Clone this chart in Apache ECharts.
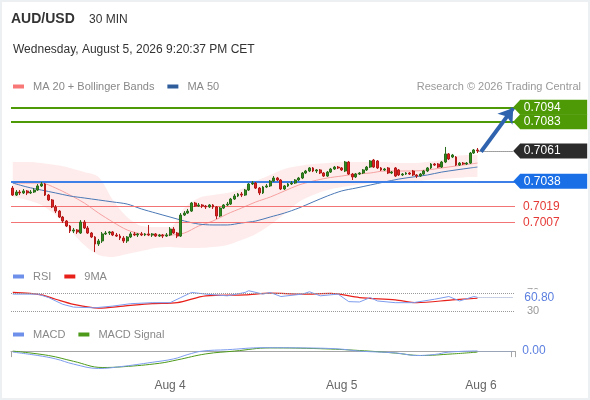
<!DOCTYPE html>
<html><head><meta charset="utf-8">
<script src="https://cdn.jsdelivr.net/npm/echarts@6/dist/echarts.min.js"></script>
<style>
html,body{margin:0;padding:0;background:#fff;}
#c{position:absolute;left:0;top:0;width:590px;height:400px;}
#frame{position:absolute;left:0;top:0;width:586px;height:396px;border:2px solid #edf0f3;pointer-events:none;}
</style>
</head><body><div id="c"></div><div id="frame"></div>
<script>
// ---------- categories (30-min bars from Aug 3 02:00) ----------
const categories = [];
for (let k = 0; k < 141; k++) {
  const t = new Date(Date.UTC(2026, 7, 3, 2, 0) + k * 1800000);
  categories.push(t.toISOString().slice(5, 16));
}
const tickIdx = [44, 92, 131];
const tickText = ['Aug 4', 'Aug 5', 'Aug 6'];

// ---------- candles ----------
const opens = [
.70329,.70276,.70299,.70292,.70307,.70292,.70299,.70314,.70345,.70360,
.70276,.70239,.70186,.70155,.70110,.70080,.70042,.70004,.70012,.69989,
.70072,.70027,.69989,.69959,.69906,.69929,.69982,.69989,.69997,.69974,
.69966,.69951,.69929,.69959,.69982,.69974,.69982,.69974,.69982,.69974,
.69982,.69966,.69974,.69966,.69974,.70019,.69989,.69966,.70125,.70140,
.70155,.70216,.70193,.70201,.70193,.70186,.70201,.70186,.70118,.70178,
.70201,.70208,.70246,.70269,.70284,.70276,.70314,.70360,.70367,.70329,
.70292,.70337,.70345,.70382,.70405,.70390,.70322,.70345,.70360,.70367,
.70390,.70405,.70443,.70458,.70481,.70458,.70466,.70443,.70420,.70450,
.70473,.70488,.70481,.70458,.70526,.70435,.70413,.70435,.70443,.70466,
.70488,.70541,.70534,.70481,.70466,.70481,.70443,.70481,.70466,.70428,
.70435,.70443,.70458,.70428,.70420,.70435,.70458,.70481,.70511,.70511,
.70488,.70526,.70587,.70564,.70564,.70503,.70518,.70511,.70518,.70594,
.70617];
const closes = [
.70276,.70299,.70292,.70307,.70292,.70299,.70314,.70345,.70360,.70276,
.70239,.70186,.70155,.70110,.70080,.70042,.70004,.70012,.69997,.70072,
.70027,.69989,.69959,.69906,.69929,.69982,.69989,.69997,.69974,.69966,
.69951,.69929,.69959,.69982,.69974,.69982,.69974,.69982,.69974,.69982,
.69966,.69974,.69966,.69974,.70019,.69989,.69966,.70125,.70140,.70155,
.70216,.70193,.70201,.70193,.70186,.70201,.70186,.70118,.70178,.70201,
.70208,.70246,.70269,.70284,.70276,.70314,.70360,.70367,.70329,.70292,
.70337,.70345,.70382,.70405,.70390,.70322,.70345,.70360,.70367,.70390,
.70405,.70443,.70458,.70481,.70458,.70466,.70443,.70420,.70450,.70473,
.70488,.70481,.70466,.70526,.70435,.70413,.70435,.70443,.70466,.70488,
.70534,.70488,.70481,.70466,.70473,.70443,.70450,.70420,.70428,.70435,
.70443,.70435,.70428,.70420,.70435,.70458,.70481,.70511,.70503,.70488,
.70526,.70587,.70549,.70579,.70503,.70518,.70511,.70518,.70594,.70617,
.70610];
const highs = [
.70345,.70314,.70314,.70322,.70314,.70314,.70329,.70360,.70375,.70367,
.70284,.70246,.70201,.70163,.70118,.70087,.70050,.70027,.70019,.70087,
.70087,.70042,.69997,.69966,.69944,.69997,.70004,.70004,.70004,.69989,
.69982,.69966,.69966,.69997,.69997,.69989,.69997,.69989,.70050,.69989,
.69989,.69982,.69982,.69989,.70034,.70034,.69997,.70140,.70155,.70171,
.70224,.70224,.70216,.70208,.70201,.70208,.70208,.70193,.70186,.70208,
.70224,.70254,.70284,.70292,.70299,.70322,.70367,.70382,.70375,.70337,
.70345,.70360,.70390,.70420,.70413,.70397,.70352,.70367,.70382,.70397,
.70413,.70450,.70466,.70488,.70488,.70473,.70473,.70450,.70458,.70481,
.70496,.70496,.70488,.70534,.70534,.70443,.70443,.70450,.70473,.70496,
.70541,.70549,.70541,.70488,.70481,.70488,.70458,.70488,.70473,.70443,
.70450,.70450,.70466,.70435,.70443,.70466,.70488,.70518,.70518,.70518,
.70534,.70640,.70594,.70587,.70571,.70526,.70526,.70526,.70602,.70624,
.70632];
const lows = [
.70269,.70269,.70276,.70284,.70276,.70284,.70292,.70307,.70337,.70269,
.70231,.70178,.70140,.70103,.70065,.70034,.69989,.69989,.69982,.69982,
.70019,.69982,.69951,.69845,.69891,.69914,.69974,.69974,.69966,.69959,
.69936,.69914,.69914,.69951,.69966,.69959,.69966,.69966,.69966,.69959,
.69959,.69959,.69951,.69959,.69966,.69982,.69951,.69959,.70118,.70133,
.70148,.70186,.70186,.70178,.70171,.70178,.70171,.70095,.70110,.70171,
.70193,.70201,.70239,.70261,.70261,.70269,.70307,.70352,.70322,.70276,
.70284,.70329,.70337,.70375,.70382,.70314,.70314,.70337,.70352,.70360,
.70382,.70397,.70435,.70450,.70450,.70443,.70435,.70413,.70413,.70443,
.70466,.70473,.70458,.70450,.70428,.70390,.70405,.70428,.70435,.70458,
.70481,.70481,.70473,.70458,.70458,.70435,.70435,.70413,.70420,.70420,
.70428,.70428,.70420,.70405,.70413,.70428,.70450,.70473,.70496,.70481,
.70481,.70518,.70541,.70556,.70496,.70496,.70503,.70503,.70511,.70587,
.70594];

// ---------- indicators (sampled at bar indices) ----------
const bandIdx = [0,4,8,12,16,20,24,28,32,36,40,44,48,52,56,60,64,68,72,76,80,84,88,92,96,100,104,108,112,116,120,124,128,130];
const bbUpper = [.70526,.70526,.70518,.70503,.70481,.70450,.70413,.70239,.70110,.70042,.70034,.70034,.70178,.70254,.70276,.70292,.70322,.70382,.70428,.70473,.70496,.70511,.70518,.70526,.70526,.70526,.70526,.70518,.70518,.70526,.70541,.70571,.70579,.70579];
const bbLower = [.70261,.70239,.70201,.70125,.70012,.69898,.69823,.69808,.69830,.69853,.69876,.69883,.69876,.69876,.69883,.69898,.69936,.69982,.70050,.70133,.70224,.70276,.70314,.70337,.70352,.70367,.70375,.70382,.70382,.70390,.70397,.70405,.70413,.70413];
const ma20 = [.70367,.70367,.70367,.70329,.70276,.70216,.70140,.70072,.70012,.69982,.69974,.69974,.69989,.70042,.70080,.70133,.70178,.70224,.70261,.70307,.70352,.70382,.70405,.70420,.70435,.70443,.70458,.70458,.70458,.70466,.70481,.70496,.70511,.70518];
const ma50 = [.70367,.70337,.70314,.70292,.70269,.70254,.70239,.70224,.70208,.70171,.70140,.70110,.70080,.70057,.70050,.70050,.70065,.70080,.70110,.70140,.70178,.70224,.70269,.70307,.70329,.70352,.70375,.70397,.70413,.70428,.70450,.70466,.70481,.70488];

const rsiIdx = [0,7,10,14,17,23,28,33,39,44,47,50,54,60,65,66,70,72,75,81,83,86,91,94,97,100,102,107,112,118,122,125,129,130];
const rsiVal = [67.8,67.8,60.2,45.2,39.1,37.6,41.4,46.7,48.9,48.9,60.2,71.5,67.8,64,71.5,75.3,67.8,71.5,62.5,67.8,73,64,67.8,51.2,50.4,60.2,52.7,48.9,48.9,56.5,62.5,52.7,62.5,60.8];
const rsiMaIdx = [0,8,12,17,24,31,39,46,54,65,72,81,89,97,107,113,123,130];
const rsiMaVal = [71.5,66.3,56.5,45.2,37,41.4,46.7,48.9,64,66.3,70,67.8,69.3,60.2,55,48.9,55,58.7];

const macdIdx = [0,7,12,17,24,30,39,45,49,53,60,70,81,91,97,107,113,118,122,130];
const macdVal = [-0.00005,-0.00022,-0.00039,-0.00065,-0.00087,-0.00078,-0.00056,-0.00039,-0.00017,0,0.00007,0.00017,0.00016,0.00011,0,-0.00009,-0.00022,-0.00017,-0.00005,0.00001];
const sigIdx = [0,10,17,25,31,41,46,54,62,72,86,97,107,114,123,130];
const sigVal = [0,-0.00022,-0.00051,-0.00082,-0.00078,-0.00061,-0.00044,-0.00014,0,0.00016,0.00012,0.00003,-0.0001,-0.00022,-0.00014,-0.00005];

// ---------- key levels ----------
const resistLevels = [0.7094, 0.7083];
const lastPrice = 0.7061;
const pivotLevel = 0.7038;
const supportLevels = [0.7019, 0.7007];
const arrowStart = [131, 0.70604];
const arrowEnd = [140, 0.70934];

// ---------- build ----------
const pairs = (idx, val) => idx.map((k, j) => [k, val[j]]);
const candleData = opens.map((o, k) => [o, closes[k], lows[k], highs[k]]);
const bandWidth = bbUpper.map((u, j) => +(u - bbLower[j]).toFixed(6));
const lastIdx = closes.length - 1;
const endCat = categories[140];
const boxPath = 'path://M0,7.5L7,0L74,0L74,15L7,15Z';
const font = 'Liberation Sans, Arial, sans-serif';

const box = (v, color) => ({
  name: v.toFixed(4), coord: [endCat, v], symbol: boxPath, symbolSize: [74, 15],
  symbolOffset: [37, 0], itemStyle: { color: color }
});
// full-width horizontal level (y from the value axis, spanning the whole plot)
const hLine = (v, lineStyle, label) => {
  const end = { yAxis: v, x: '99.9%', lineStyle: lineStyle };
  if (label) end.label = label;
  return [{ yAxis: v, x: 11 }, end];
};

const chart = echarts.init(document.getElementById('c'), null, { renderer: 'canvas' });
chart.setOption({
  animation: false,
  textStyle: { fontFamily: font },
  title: [
    { text: 'AUD/USD', left: 11, top: 12, padding: 0, textStyle: { fontSize: 14, fontWeight: 'bold', color: '#333', fontFamily: font } },
    { text: '30 MIN', left: 89, top: 14, padding: 0, textStyle: { fontSize: 12, fontWeight: 'normal', color: '#333', fontFamily: font } },
    { text: 'Wednesday, August 5, 2026 9:20:37 PM CET', left: 13, top: 44, padding: 0, textStyle: { fontSize: 12, fontWeight: 'normal', color: '#333', fontFamily: font } },
    { text: 'Research \u00a9 2026 Trading Central', right: 9, top: 81, padding: 0, textStyle: { fontSize: 11, fontWeight: 'normal', color: '#999', fontFamily: font } }
  ],
  legend: [
    { left: 13, top: 81, padding: 0, itemWidth: 11, itemHeight: 4, itemGap: 13, icon: 'rect', selectedMode: false,
      textStyle: { color: '#888', fontSize: 11, padding: [0, 0, 0, 4] },
      data: [{ name: 'MA 20 + Bollinger Bands', itemStyle: { color: '#f87777' } }, { name: 'MA 50', itemStyle: { color: '#2f5d9c' } }] },
    { left: 13, top: 271, padding: 0, itemWidth: 11, itemHeight: 4, itemGap: 13, icon: 'rect', selectedMode: false,
      textStyle: { color: '#888', fontSize: 11, padding: [0, 0, 0, 4] },
      data: [{ name: 'RSI', itemStyle: { color: '#6f90ea' } }, { name: '9MA', itemStyle: { color: '#e8201a' } }] },
    { left: 13, top: 329, padding: 0, itemWidth: 11, itemHeight: 4, itemGap: 13, icon: 'rect', selectedMode: false,
      textStyle: { color: '#888', fontSize: 11, padding: [0, 0, 0, 4] },
      data: [{ name: 'MACD', itemStyle: { color: '#6f90ea' } }, { name: 'MACD Signal', itemStyle: { color: '#4d9a1a' } }] }
  ],
  grid: [
    { left: 11, width: 504, top: 100, height: 160 },
    { left: 11, width: 504, top: 288.6, height: 27.15 },
    { left: 11, width: 504, top: 345.1, height: 26.8 }
  ],
  xAxis: [
    { type: 'category', gridIndex: 0, data: categories, boundaryGap: true, show: false },
    { type: 'category', gridIndex: 1, data: categories, boundaryGap: true, show: false },
    { type: 'category', gridIndex: 2, data: categories, boundaryGap: true,
      axisLine: { lineStyle: { color: '#a6a6a6' } },
      axisTick: { show: true, length: 6, interval: (i) => i === 0 || i === 140, lineStyle: { color: '#a6a6a6' } },
      axisLabel: { interval: (i) => tickIdx.includes(i), formatter: (v, i) => { const p = tickIdx.indexOf(i); return p >= 0 ? tickText[p] : ''; }, color: '#666', fontSize: 12, margin: 8 },
      splitLine: { show: false } }
  ],
  yAxis: [
    { type: 'value', gridIndex: 0, min: 0.69785, max: 0.70995, show: false },
    { type: 'value', gridIndex: 1, min: 20, max: 80, interval: 10, position: 'right',
      axisLine: { show: false }, axisTick: { show: false }, splitLine: { show: false },
      axisLabel: { margin: 12, color: '#999', fontSize: 11, formatter: (v) => (v === 70 || v === 30) ? String(v) : '' } },
    { type: 'value', gridIndex: 2, min: -0.00104, max: 0.0003, show: false }
  ],
  series: [
    { name: 'bbLow', type: 'line', xAxisIndex: 0, yAxisIndex: 0, stack: 'bb', smooth: 0.3, symbol: 'none', silent: true,
      data: pairs(bandIdx, bbLower), lineStyle: { opacity: 0 }, z: 1 },
    { name: 'bbFill', type: 'line', xAxisIndex: 0, yAxisIndex: 0, stack: 'bb', smooth: 0.3, symbol: 'none', silent: true,
      data: pairs(bandIdx, bandWidth), lineStyle: { opacity: 0 }, areaStyle: { color: 'rgba(250,120,120,0.2)' }, z: 1 },
    { name: 'MA 20 + Bollinger Bands', type: 'line', xAxisIndex: 0, yAxisIndex: 0, smooth: 0.3, symbol: 'none', silent: true,
      data: pairs(bandIdx, ma20), lineStyle: { color: '#f6a0a0', width: 1 }, itemStyle: { color: '#f87777' }, z: 2 },
    { name: 'MA 50', type: 'line', xAxisIndex: 0, yAxisIndex: 0, smooth: 0.3, symbol: 'none', silent: true,
      data: pairs(bandIdx, ma50), lineStyle: { color: '#4a78b5', width: 1 }, itemStyle: { color: '#2f5d9c' }, z: 2 },
    { name: 'levels', type: 'line', xAxisIndex: 0, yAxisIndex: 0, symbol: 'none', silent: true,
      data: pairs(bandIdx, ma50), lineStyle: { opacity: 0 }, z: 4,
      markLine: {
        silent: true, symbol: ['none', 'none'], animation: false, label: { show: false },
        data: [
          [ { coord: [categories[0], resistLevels[0]], x: 11 }, { coord: [endCat, resistLevels[0]], x: 515, lineStyle: { color: '#4e9a06', width: 2, type: 'solid' } } ],
          [ { coord: [categories[0], resistLevels[1]], x: 11 }, { coord: [endCat, resistLevels[1]], x: 515, lineStyle: { color: '#4e9a06', width: 2, type: 'solid' } } ],
          [ { coord: [categories[0], pivotLevel], x: 11 }, { coord: [endCat, pivotLevel], x: 515, lineStyle: { color: '#3d7fe6', width: 2, type: 'solid' } } ],
          [ { coord: [categories[0], supportLevels[0]], x: 11 },
            { coord: [endCat, supportLevels[0]], x: 515, lineStyle: { color: '#f27474', width: 1, type: 'solid' },
              label: { show: true, position: 'end', distance: 8, formatter: supportLevels[0].toFixed(4), color: '#e53935', fontSize: 12 } } ],
          [ { coord: [categories[0], supportLevels[1]], x: 11 },
            { coord: [endCat, supportLevels[1]], x: 515, lineStyle: { color: '#f27474', width: 1, type: 'solid' },
              label: { show: true, position: 'end', distance: 8, formatter: supportLevels[1].toFixed(4), color: '#e53935', fontSize: 12 } } ],
          [ { coord: [categories[lastIdx], lastPrice] }, { coord: [endCat, lastPrice], lineStyle: { type: 'dotted', color: '#444', width: 1 } } ],
          [ { coord: [categories[arrowStart[0]], arrowStart[1]], symbol: 'none' },
            { coord: [categories[arrowEnd[0]], arrowEnd[1]], symbol: 'arrow', symbolSize: 14, lineStyle: { color: '#2f63ae', width: 4, type: 'solid' } } ]
        ]
      },
      markPoint: {
        silent: true, animation: false,
        label: { show: true, position: 'inside', formatter: '{b}', color: '#fff', fontSize: 12, offset: [-8, 0] },
        data: [
          box(resistLevels[0], '#4e9a06'),
          box(resistLevels[1], '#4e9a06'),
          box(lastPrice, '#2b2b2b'),
          box(pivotLevel, '#1b6fe6')
        ]
      }
    },
    { name: 'AUD/USD', type: 'candlestick', xAxisIndex: 0, yAxisIndex: 0, data: candleData, barWidth: 2.4, z: 5,
      itemStyle: { color: '#2f8a1f', color0: '#e02222', borderColor: '#2a6e1c', borderColor0: '#b31a1a', borderWidth: 1 } },
    { name: 'RSI', type: 'line', xAxisIndex: 1, yAxisIndex: 1, symbol: 'none', silent: true,
      data: pairs(rsiIdx, rsiVal), lineStyle: { color: '#7d9cee', width: 1 }, itemStyle: { color: '#6f90ea' }, z: 3,
      markLine: {
        silent: true, symbol: ['none', 'none'], animation: false, label: { show: false },
        data: [
          [ { coord: [categories[0], 70], x: 11 }, { coord: [endCat, 70], x: 515, lineStyle: { color: '#999', type: 'dotted', width: 1 } } ],
          [ { coord: [categories[0], 30], x: 11 }, { coord: [endCat, 30], x: 515, lineStyle: { color: '#999', type: 'dotted', width: 1 } } ],
          [ { coord: [categories[lastIdx], rsiVal[rsiVal.length - 1]] },
            { coord: [endCat, rsiVal[rsiVal.length - 1]], lineStyle: { color: '#8fa3cc', type: 'dotted', width: 1 },
              label: { show: true, position: 'end', distance: 9, formatter: rsiVal[rsiVal.length - 1].toFixed(2), color: '#5d80e0', fontSize: 12, backgroundColor: '#fff', padding: [2, 2] } } ]
        ]
      } },
    { name: '9MA', type: 'line', xAxisIndex: 1, yAxisIndex: 1, smooth: 0.3, symbol: 'none', silent: true,
      data: pairs(rsiMaIdx, rsiMaVal), lineStyle: { color: '#e8201a', width: 1.2 }, itemStyle: { color: '#e8201a' }, z: 2 },
    { name: 'MACD', type: 'line', xAxisIndex: 2, yAxisIndex: 2, smooth: 0.4, symbol: 'none', silent: true,
      data: pairs(macdIdx, macdVal), lineStyle: { color: '#7d9cee', width: 1 }, itemStyle: { color: '#6f90ea' }, z: 3,
      markLine: {
        silent: true, symbol: ['none', 'none'], animation: false, label: { show: false },
        data: [
          [ { coord: [categories[lastIdx], macdVal[macdVal.length - 1]] },
            { coord: [endCat, macdVal[macdVal.length - 1]], lineStyle: { color: '#8fa3cc', type: 'dotted', width: 1 },
              label: { show: true, position: 'end', distance: 9, formatter: Math.abs(macdVal[macdVal.length - 1]).toFixed(2), color: '#5d80e0', fontSize: 12 } } ]
        ]
      } },
    { name: 'MACD Signal', type: 'line', xAxisIndex: 2, yAxisIndex: 2, smooth: 0.4, symbol: 'none', silent: true,
      data: pairs(sigIdx, sigVal), lineStyle: { color: '#4d9a1a', width: 1 }, itemStyle: { color: '#4d9a1a' }, z: 2 }
  ]
});
</script>
</body></html>
